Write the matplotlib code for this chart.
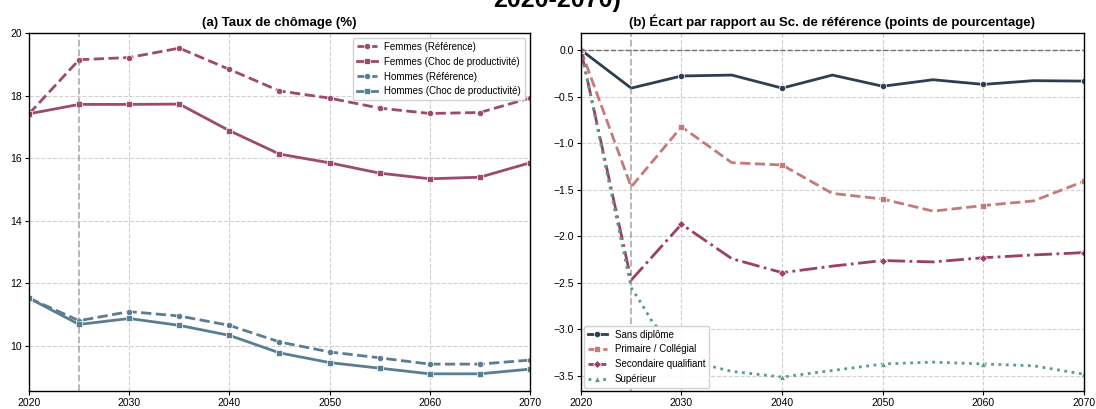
import numpy as np
import matplotlib
matplotlib.use("Agg")
import matplotlib.pyplot as plt

plt.rcParams['font.family'] = ['Liberation Sans', 'DejaVu Sans']

# --- Panel (a): unemployment rate by sex ---
years = [2020, 2025, 2030, 2035, 2040, 2045, 2050, 2055, 2060, 2065, 2070]
femmes_ref = [17.42, 19.15, 19.22, 19.52, 18.84, 18.15, 17.92, 17.60, 17.43, 17.46, 17.92]
femmes_choc = [17.42, 17.72, 17.72, 17.73, 16.88, 16.13, 15.85, 15.52, 15.34, 15.39, 15.85]
hommes_ref = [11.52, 10.80, 11.09, 10.95, 10.65, 10.12, 9.80, 9.61, 9.41, 9.41, 9.54]
hommes_choc = [11.52, 10.68, 10.87, 10.65, 10.33, 9.77, 9.46, 9.28, 9.10, 9.10, 9.25]

# --- Panel (b): gap vs reference scenario by education level ---
sans_diplome = [0.0, -0.41, -0.28, -0.27, -0.41, -0.27, -0.39, -0.32, -0.37, -0.33, -0.335]
primaire = [0.0, -1.47, -0.825, -1.21, -1.235, -1.54, -1.60, -1.73, -1.67, -1.62, -1.41]
secondaire = [0.0, -2.47, -1.87, -2.24, -2.39, -2.32, -2.26, -2.275, -2.23, -2.20, -2.175]
sup_years = [2020, 2025, 2026, 2027, 2028, 2030, 2032, 2035, 2040, 2045, 2050, 2055, 2060, 2065, 2070]
superieur = [0.0, -2.55, -2.72, -2.90, -3.03, -3.25, -3.37, -3.45, -3.51, -3.44, -3.37, -3.35, -3.37, -3.39, -3.48]

c_femmes = '#9c4a6e'
c_hommes = '#5a7d92'
c_sans = '#2c3e50'
c_prim = '#c47a78'
c_sec = '#9b3f68'
c_sup = '#5a9e80'

fig = plt.figure(figsize=(10.96, 4.09), dpi=100)
ax1 = fig.add_axes([0.0265, 0.044, 0.457, 0.875])
ax2 = fig.add_axes([0.530, 0.044, 0.459, 0.875])

# title cut at the top of the image, as in the original
fig.text(0.508, 0.982, "Chômage et choc de productivité au Maroc\n2020-2070)",
         ha='center', va='baseline', fontsize=18, fontweight='bold')

mk = dict(markersize=4.5, markeredgecolor='white', markeredgewidth=0.5)
ax1.plot(years, femmes_ref, color=c_femmes, linestyle='--', linewidth=2, marker='o', label='Femmes (Référence)', **mk)
ax1.plot(years, femmes_choc, color=c_femmes, linestyle='-', linewidth=2, marker='s', label='Femmes (Choc de productivité)', **mk)
ax1.plot(years, hommes_ref, color=c_hommes, linestyle='--', linewidth=2, marker='o', label='Hommes (Référence)', **mk)
ax1.plot(years, hommes_choc, color=c_hommes, linestyle='-', linewidth=2, marker='s', label='Hommes (Choc de productivité)', **mk)
ax1.axvline(2025, color='gray', linestyle='--', linewidth=1.3, alpha=0.6)

ax1.set_xlim(2020, 2070)
ax1.set_ylim(8.55, 20)
ax1.set_yticks([10, 12, 14, 16, 18, 20])
ax1.set_xticks(range(2020, 2071, 10))
ax1.set_title("(a) Taux de chômage (%)", fontsize=9.5, fontweight='bold', pad=5)
ax1.grid(True, linestyle='--', color='#d0d0d0', linewidth=0.8)
ax1.legend(loc='upper right', fontsize=7, handlelength=2.0, framealpha=0.9)

ax2.plot(years, sans_diplome, color=c_sans, linestyle='-', linewidth=2, marker='o', markevery=2,
         label='Sans diplôme', **mk)
ax2.plot(years, primaire, color=c_prim, linestyle='--', linewidth=2, marker='s', markevery=2,
         label='Primaire / Collégial', **mk)
ax2.plot(years, secondaire, color=c_sec, linestyle='-.', linewidth=2, marker='D', markevery=2,
         label='Secondaire qualifiant', markersize=4, markeredgecolor='white', markeredgewidth=0.5)
sup_marks = [i for i, y in enumerate(sup_years) if y % 10 == 0]
ax2.plot(sup_years, superieur, color=c_sup, linestyle=':', linewidth=2, marker='^', markevery=sup_marks,
         label='Supérieur', **mk)
ax2.axhline(0, color='#555555', linestyle='--', linewidth=1, alpha=0.8)
ax2.axvline(2025, color='gray', linestyle='--', linewidth=1.3, alpha=0.6)

ax2.set_xlim(2020, 2070)
ax2.set_ylim(-3.66, 0.18)
ax2.set_yticks(np.arange(-3.5, 0.01, 0.5))
ax2.set_xticks(range(2020, 2071, 10))
ax2.set_title("(b) Écart par rapport au Sc. de référence (points de pourcentage)", fontsize=9.5,
              fontweight='bold', pad=5)
ax2.grid(True, linestyle='--', color='#d0d0d0', linewidth=0.8)
ax2.legend(loc='lower left', fontsize=7, handlelength=2.0, framealpha=0.9, borderaxespad=0.3)

for ax in (ax1, ax2):
    ax.tick_params(labelsize=7.5, length=3, pad=2)
    for s in ax.spines.values():
        s.set_linewidth(1.0)

fig.savefig("out.png", dpi=100)
